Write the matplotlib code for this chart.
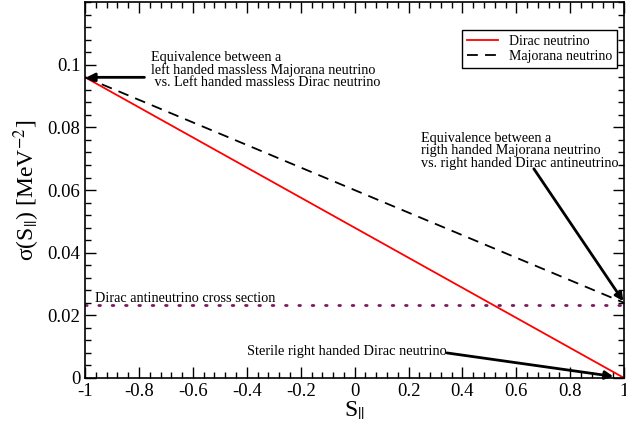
import numpy as np
import matplotlib.pyplot as plt
from matplotlib.ticker import MultipleLocator

plt.rcParams['font.family'] = ['Liberation Serif', 'DejaVu Serif']
plt.rcParams['mathtext.fontset'] = 'stix'

# datos
s_par = [-1.0, 1.0]
sigma_dirac = [0.096, 0.0]
sigma_majorana = [0.096, 0.024]
sigma_antinu = 0.0232

xticks = [-1, -0.8, -0.6, -0.4, -0.2, 0, 0.2, 0.4, 0.6, 0.8, 1]
xticklabels = ['-1', '-0.8', '-0.6', '-0.4', '-0.2', '0', '0.2', '0.4', '0.6', '0.8', '1']
yticks = [0, 0.02, 0.04, 0.06, 0.08, 0.1]
yticklabels = ['0', '0.02', '0.04', '0.06', '0.08', '0.1']

fig = plt.figure(figsize=(6.26, 4.32), dpi=100)
ax = fig.add_axes([0.136, 0.125, 0.861, 0.870])

ax.plot(s_par, sigma_dirac, color='red', lw=1.3, label='Dirac neutrino')
ax.plot(s_par, sigma_majorana, color='black', lw=1.3, ls=(0, (6, 4)), label='Majorana neutrino')
ax.axhline(sigma_antinu, color='#7a1a5e', lw=2.0, ls=(0, (0.6, 4.2)), dash_capstyle='round')

ax.set_xlim(-1, 1)
ax.set_ylim(0, 0.12)
ax.set_xticks(xticks)
ax.set_xticklabels(xticklabels)
ax.set_yticks(yticks)
ax.set_yticklabels(yticklabels)
ax.xaxis.set_minor_locator(MultipleLocator(0.04))
ax.yaxis.set_minor_locator(MultipleLocator(0.004))
ax.tick_params(which='both', direction='in', top=True, right=True, labelsize=13.5)
ax.tick_params(which='major', length=8, width=1.0)
ax.tick_params(which='minor', length=4, width=1.0)
for sp in ax.spines.values():
    sp.set_linewidth(1.2)

ax.set_xlabel(r'S$_{||}$', fontsize=17, labelpad=0)
ax.set_ylabel('σ(S$_{||}$) [MeV$^{-2}$]', fontsize=17, labelpad=4)

leg = ax.legend(loc='upper right', bbox_to_anchor=(0.987, 0.926), borderaxespad=0,
                fontsize=10, frameon=True, fancybox=False, edgecolor='black',
                framealpha=1, handlelength=2.2, borderpad=0.35, labelspacing=0.15)
leg.get_frame().set_linewidth(1.0)

arrow = dict(arrowstyle='-|>', color='black', lw=2.0, mutation_scale=12, shrinkA=0, shrinkB=0)

ax.annotate('', xy=(-0.995, 0.096), xytext=(-0.78, 0.096), arrowprops=arrow)
ax.text(-0.755, 0.1045, 'Equivalence between a\nleft handed massless Majorana neutrino\n'
        ' vs. Left handed massless Dirac neutrino',
        fontsize=10.2, va='top', ha='left', linespacing=0.92)

ax.annotate('', xy=(0.997, 0.0245), xytext=(0.665, 0.0668), arrowprops=arrow)
ax.text(0.245, 0.0785, 'Equivalence between a\nrigth handed Majorana neutrino\n'
        'vs. right handed Dirac antineutrino',
        fontsize=10.2, va='top', ha='left', linespacing=0.92)

ax.annotate('', xy=(0.96, 0.0005), xytext=(0.343, 0.008), arrowprops=arrow)
ax.text(0.343, 0.0085, 'Sterile right handed Dirac neutrino', fontsize=10.4,
        va='center', ha='right')

ax.text(-0.963, 0.0234, 'Dirac antineutrino cross section', fontsize=10.3,
        va='bottom', ha='left')

fig.savefig('out.png', dpi=100)
